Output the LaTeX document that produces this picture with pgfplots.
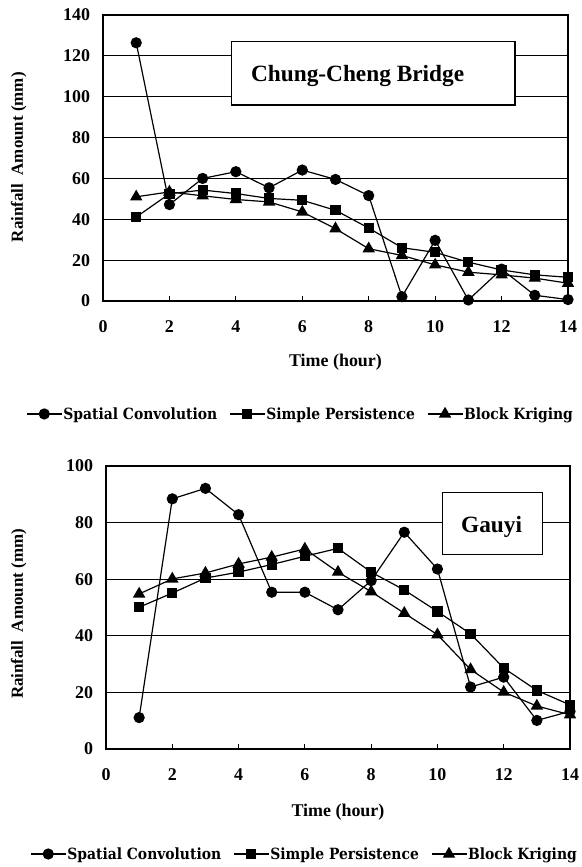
\documentclass[border=0pt]{standalone}
\usepackage{pgfplots}
\pgfplotsset{compat=1.18}
\usepackage{fontspec}
\setmainfont{Liberation Serif}
\newfontfamily\legfont[FakeStretch=0.9]{DejaVu Serif}
\begin{document}
\begin{tikzpicture}
\path[use as bounding box] (0,0) rectangle (582bp,-867bp);
\pgfplotsset{
 mystyle/.style={
  scale only axis,
  xmin=0,xmax=14, xtick={0,2,...,14},
  ymajorgrids, grid style={black, line width=1.1bp},
  axis line style={line width=1.2bp},
  xtick pos=bottom, ytick pos=left, tick align=inside,
  major tick length=5bp, xtick style={black, line width=1bp}, ytick style={draw=none},
  tick label style={font=\fontsize{18}{20}\selectfont\bfseries},
  /pgf/number format/assume math mode=true,
  xticklabel style={yshift=-16bp},
  yticklabel style={xshift=-9.5bp},
  xlabel={Time (hour)}, ylabel={Rainfall\ \ Amount\ (mm)},
  xlabel style={font=\fontsize{18}{20}\selectfont\bfseries},
  ylabel style={font=\fontsize{17}{19}\selectfont\bfseries},
  clip=false,
  every axis plot/.append style={black, line width=1.2bp},
  legend columns=3,
  legend style={draw=none, fill=none, font=\legfont\fontsize{15.5}{17}\selectfont\bfseries, inner sep=0pt, /tikz/every even column/.append style={column sep=11bp}, nodes={inner xsep=1bp, inner ysep=0pt}, anchor=center},
  legend image code/.code={\draw[mark repeat=2,mark phase=2] plot coordinates {(0bp,0bp) (17.5bp,0bp) (35bp,0bp)};},
 },
 sc/.style={mark=*, mark size=5bp, mark options={solid, fill=black}},
 sp/.style={mark=square*, mark size=4.5bp, mark options={solid, fill=black}},
 bk/.style={mark=triangle*, mark size=6bp, mark options={solid, fill=black}},
}
\begin{axis}[mystyle, at={(103bp,-301bp)}, anchor=south west, width=465bp, height=286bp,
  ymin=0, ymax=140, ytick={0,20,...,140},
  xlabel style={at={(axis description cs:0.5,-0.213)}, anchor=center},
  ylabel style={at={(axis description cs:-0.1815,0.503)}, anchor=center},
  legend style={at={(0.4237,-0.395)}}]
\draw[line width=1.2bp, fill=white] (rel axis cs:0.277,0.685) rectangle (rel axis cs:0.886,0.906);
\node[anchor=west, inner sep=0pt, font=\fontsize{23.4}{26}\selectfont\bfseries] at (rel axis cs:0.318,0.787) {Chung-Cheng Bridge};
\addplot[sc] coordinates {(1,126.4) (2,47.2) (3,60) (4,63.3) (5,55.4) (6,64.1) (7,59.5) (8,51.6) (9,2.1) (10,29.7) (11,0.5) (12,15.6) (13,2.8) (14,0.7)};
\addlegendentry{Spatial Convolution}
\addplot[sp] coordinates {(1,41.1) (2,52.5) (3,54.3) (4,52.6) (5,50.2) (6,49.3) (7,44.4) (8,35.7) (9,26.1) (10,23.8) (11,19) (12,15.2) (13,12.8) (14,11.6)};
\addlegendentry{Simple Persistence}
\addplot[bk] coordinates {(1,51) (2,53.4) (3,51.5) (4,49.7) (5,48.5) (6,43.6) (7,35.4) (8,25.6) (9,22.3) (10,17.7) (11,14.1) (12,12.8) (13,11.2) (14,8.7)};
\addlegendentry{Block Kriging}
\end{axis}
\begin{axis}[mystyle, at={(106bp,-749bp)}, anchor=south west, width=464bp, height=283bp,
  ymin=0, ymax=100, ytick={0,20,...,100},
  xlabel style={at={(axis description cs:0.5,-0.2226)}, anchor=center},
  ylabel style={at={(axis description cs:-0.188,0.477)}, anchor=center},
  legend style={at={(0.4267,-0.371)}}]
\draw[line width=1.2bp, fill=white] (rel axis cs:0.726,0.686) rectangle (rel axis cs:0.940,0.905);
\node[anchor=center, inner sep=0pt, font=\fontsize{23.4}{26}\selectfont\bfseries] at (rel axis cs:0.831,0.784) {Gauyi};
\addplot[sc] coordinates {(1,11.1) (2,88.4) (3,92.1) (4,82.8) (5,55.4) (6,55.4) (7,49.2) (8,59.5) (9,76.6) (10,63.6) (11,21.9) (12,25.4) (13,10.1) (14,13.3)};
\addlegendentry{Spatial Convolution}
\addplot[sp] coordinates {(1,50.1) (2,55.1) (3,60.4) (4,62.5) (5,65.2) (6,68.1) (7,70.9) (8,62.5) (9,56.2) (10,48.6) (11,40.7) (12,28.6) (13,20.7) (14,15.6)};
\addlegendentry{Simple Persistence}
\addplot[bk] coordinates {(1,54.8) (2,60.1) (3,62.2) (4,65.4) (5,67.8) (6,70.7) (7,62.5) (8,55.6) (9,48) (10,40.4) (11,28.1) (12,20.1) (13,15.2) (14,12.1)};
\addlegendentry{Block Kriging}
\end{axis}
\end{tikzpicture}
\end{document}
